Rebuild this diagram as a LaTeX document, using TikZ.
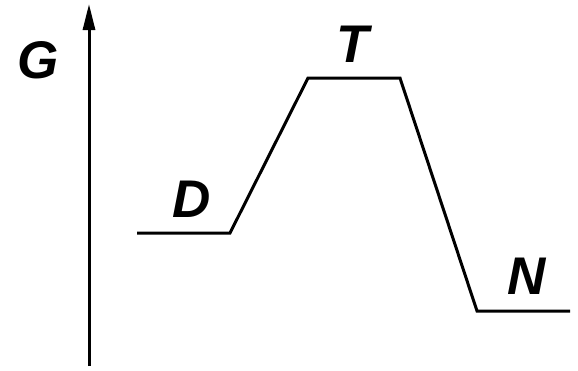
\documentclass[tikz,border=0pt]{standalone}
\usepackage{fontspec}
\setmainfont{Liberation Sans}
\usetikzlibrary{arrows.meta}
\begin{document}
\begin{tikzpicture}[x=1pt,y=-1pt,
  lbl/.style={font=\fontsize{53}{53}\selectfont\bfseries\itshape, inner sep=0pt, anchor=center},
  curve/.style={line width=3pt, line join=miter},
  axis/.style={line width=3pt, -{Triangle[length=26pt,width=12pt]}}]
\useasboundingbox (0,0) rectangle (578,370);
\coordinate (a0) at (89,366);
\coordinate (a1) at (89,4);
\draw[axis] (a0) -- (a1);
\coordinate (p1) at (137,233);
\coordinate (p2) at (230,233);
\coordinate (p3) at (308,78);
\coordinate (p4) at (400,78);
\coordinate (p5) at (477,311);
\coordinate (p6) at (570,311);
\draw[curve] (p1) -- (p2) -- (p3) -- (p4) -- (p5) -- (p6);
\node[lbl] (G) at (38,60) {G};
\node[lbl] (D) at (192,199) {D};
\node[lbl] (T) at (353,44) {T};
\node[lbl] (N) at (527,276) {N};
\end{tikzpicture}
\end{document}
